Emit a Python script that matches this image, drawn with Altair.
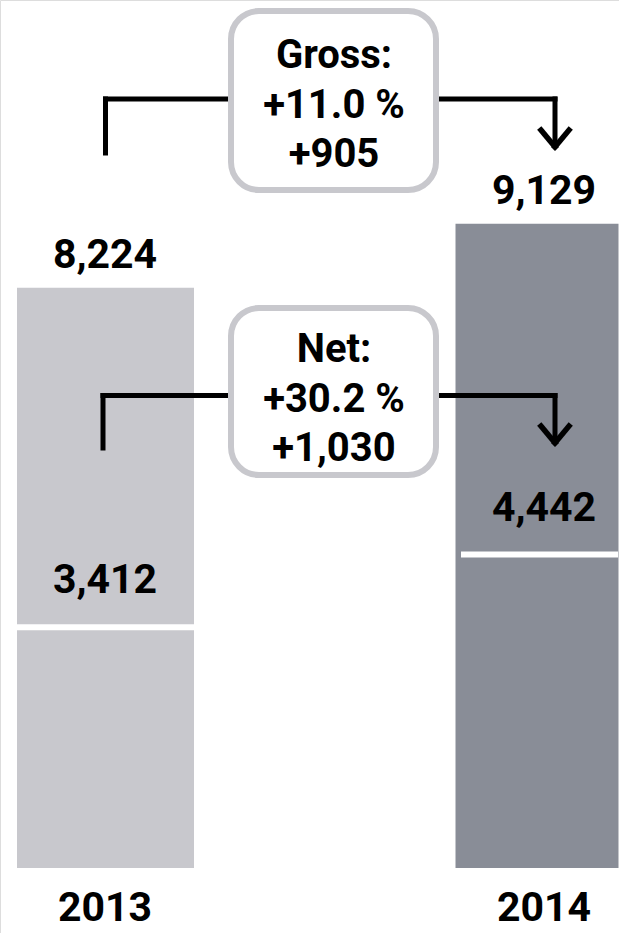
import altair as alt
import pandas as pd

# ---- data ----
years = ["2013", "2014"]
gross = [8224, 9129]
net = [3412, 4442]
gross_box = ["Gross:", "+11.0 %", "+905"]
net_box = ["Net:", "+30.2 %", "+1,030"]

df = pd.DataFrame({"year": years, "gross": gross, "net": net})
one = pd.DataFrame({"a": [0]})

FONT = "Roboto"
WEIGHT = "bold"
LIGHT = "#c8c8cd"
DARK = "#898d97"

xs = alt.Scale(type="point", domain=years, range=[105, 544], padding=0)
ys = alt.Scale(domain=[0, 12300], range=[868, 0], zero=True, nice=False)

X = alt.X("year:N", scale=xs, axis=None)
base = alt.Chart(df)

def bars(year, width, color, xoff):
    return base.transform_filter(alt.datum.year == year).mark_bar(
        width=width, color=color, xOffset=xoff
    ).encode(x=X, y=alt.Y("gross:Q", scale=ys, axis=None), y2=alt.datum(0))

def sep(year, size, xoff):
    return base.transform_filter(alt.datum.year == year).mark_tick(
        color="white", thickness=6, size=size, xOffset=xoff, opacity=1
    ).encode(x=X, y=alt.Y("net:Q", scale=ys))

b13 = bars("2013", 177, LIGHT, 0.5)
b14 = bars("2014", 163, DARK, -7)
s13 = sep("2013", 177, 0.5)
s14 = sep("2014", 157, -4.5)

gross_lbl = base.mark_text(font=FONT, fontWeight=WEIGHT, fontSize=41, baseline="alphabetic", dy=-20, color="black").encode(
    x=X, y=alt.Y("gross:Q", scale=ys), text=alt.Text("gross:Q", format=",")
)
net_lbl = base.mark_text(font=FONT, fontWeight=WEIGHT, fontSize=41, baseline="alphabetic", dy=-34, color="black").encode(
    x=X, y=alt.Y("net:Q", scale=ys), text=alt.Text("net:Q", format=",")
)
year_lbl = base.mark_text(font=FONT, fontWeight=WEIGHT, fontSize=41, baseline="alphabetic", color="black").encode(
    x=X, y=alt.value(921), text="year:N"
)

def seg(x1, y1, x2=None, y2=None, w=5):
    enc = {"x": alt.value(x1), "y": alt.value(y1)}
    if x2 is not None:
        enc["x2"] = alt.value(x2)
    if y2 is not None:
        enc["y2"] = alt.value(y2)
    return alt.Chart(one).mark_rule(color="black", strokeWidth=w, strokeCap="square").encode(**enc)

def bracket(xl, ybot_l, yh, xr, ytip):
    return [
        seg(xl, yh, y2=ybot_l),
        seg(xl, yh, x2=333),
        seg(333, yh, x2=xr),
        seg(xr, yh, y2=ytip - 3),
        seg(xr - 14, ytip - 17, x2=xr, y2=ytip, w=5.5),
        seg(xr + 14, ytip - 17, x2=xr, y2=ytip, w=5.5),
    ]

def box(y1, y2):
    return alt.Chart(one).mark_rect(
        fill="white", stroke=LIGHT, strokeWidth=6, cornerRadius=28
    ).encode(x=alt.value(231), x2=alt.value(436), y=alt.value(y1), y2=alt.value(y2))

def box_text(lines, y):
    return alt.Chart(one).mark_text(
        font=FONT, fontWeight=WEIGHT, fontSize=40, baseline="alphabetic",
        lineHeight=49.5, align="center", color="black"
    ).encode(x=alt.value(334), y=alt.value(y), text=alt.value(lines))

layers = [b13, b14, s13, s14, gross_lbl, net_lbl, year_lbl]
layers += bracket(105.5, 153, 99, 555, 147)
layers += bracket(103, 448, 395.5, 555, 443)
layers += [box(11, 190), box_text(gross_box, 68), box(308, 475), box_text(net_box, 362)]

chart = alt.layer(*layers).properties(
    width=619, height=933, padding=0, autosize=alt.AutoSizeParams(type="none")
).configure_view(stroke=None).configure(background="white")

chart.save("out.html", embed_options={"renderer": "svg", "actions": False})
